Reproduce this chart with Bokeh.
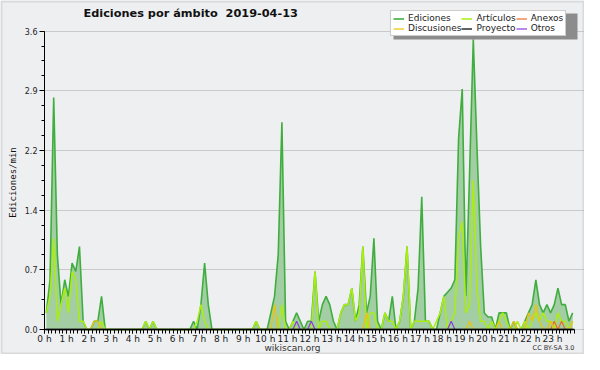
from math import pi
from bokeh.plotting import figure
from bokeh.models import (FixedTicker, Legend, LegendItem, Label, BoxAnnotation,
                          NumeralTickFormatter, Grid)
from bokeh.embed import file_html
from bokeh.resources import INLINE

# ---- data: 10-minute bins, edits per minute ----
bin_minutes = list(range(5, 1440, 10))          # bin centres (minutes after 0 h)
hour_ticks = list(range(24))
hour_labels = [f"{h} h" for h in hour_ticks]
y_ticks = [0.0, 0.72, 1.44, 2.16, 2.88, 3.6]

ediciones = [
    0.2, 0.6, 2.8, 0.9, 0.3, 0.6,    # 0 h
    0.4, 0.8, 0.7, 1.0, 0.1, 0.0,    # 1 h
    0.0, 0.1, 0.1, 0.4, 0.0, 0.0,    # 2 h
    0.0, 0.0, 0.0, 0.0, 0.0, 0.0,    # 3 h
    0.0, 0.0, 0.0, 0.1, 0.0, 0.1,    # 4 h
    0.0, 0.0, 0.0, 0.0, 0.0, 0.0,    # 5 h
    0.0, 0.0, 0.0, 0.0, 0.1, 0.0,    # 6 h
    0.3, 0.8, 0.3, 0.0, 0.0, 0.0,    # 7 h
    0.0, 0.0, 0.0, 0.0, 0.0, 0.0,    # 8 h
    0.0, 0.0, 0.0, 0.1, 0.0, 0.0,    # 9 h
    0.0, 0.2, 0.4, 0.9, 2.5, 0.1,    # 10 h
    0.0, 0.1, 0.2, 0.1, 0.0, 0.1,    # 11 h
    0.1, 0.7, 0.1, 0.3, 0.4, 0.3,    # 12 h
    0.1, 0.0, 0.2, 0.3, 0.3, 0.5,    # 13 h
    0.1, 0.3, 1.0, 0.2, 0.4, 1.1,    # 14 h
    0.1, 0.0, 0.2, 0.1, 0.4, 0.0,    # 15 h
    0.1, 0.4, 1.0, 0.0, 0.1, 0.5,    # 16 h
    1.6, 0.1, 0.1, 0.0, 0.0, 0.2,    # 17 h
    0.4, 0.45, 0.5, 0.6, 2.3, 2.9,   # 18 h
    0.4, 1.9, 3.5, 2.2, 1.0, 0.2,    # 19 h
    0.15, 0.15, 0.0, 0.2, 0.2, 0.2,  # 20 h
    0.0, 0.1, 0.0, 0.0, 0.1, 0.2,    # 21 h
    0.3, 0.6, 0.3, 0.2, 0.3, 0.2,    # 22 h
    0.3, 0.5, 0.3, 0.3, 0.1, 0.2,    # 23 h
]

articulos = [
    0.2, 0.4, 1.1, 0.1, 0.3, 0.5,
    0.2, 0.7, 0.6, 0.1, 0.1, 0.0,
    0.0, 0.0, 0.0, 0.1, 0.0, 0.0,
    0.0, 0.0, 0.0, 0.0, 0.0, 0.0,
    0.0, 0.0, 0.0, 0.1, 0.0, 0.1,
    0.0, 0.0, 0.0, 0.0, 0.0, 0.0,
    0.0, 0.0, 0.0, 0.0, 0.0, 0.1,
    0.3, 0.1, 0.0, 0.0, 0.0, 0.0,
    0.0, 0.0, 0.0, 0.0, 0.0, 0.0,
    0.0, 0.0, 0.0, 0.1, 0.0, 0.0,
    0.0, 0.0, 0.0, 0.0, 0.3, 0.0,
    0.0, 0.1, 0.0, 0.0, 0.0, 0.0,
    0.0, 0.7, 0.0, 0.1, 0.1, 0.0,
    0.0, 0.0, 0.2, 0.3, 0.3, 0.5,
    0.1, 0.2, 1.0, 0.0, 0.2, 0.2,
    0.0, 0.0, 0.2, 0.1, 0.1, 0.0,
    0.1, 0.4, 1.0, 0.0, 0.1, 0.1,
    0.1, 0.1, 0.1, 0.0, 0.1, 0.2,
    0.4, 0.0, 0.1, 0.2, 1.1, 1.3,
    0.2, 0.3, 1.8, 0.5, 0.1, 0.1,
    0.0, 0.1, 0.0, 0.1, 0.2, 0.1,
    0.0, 0.0, 0.1, 0.0, 0.1, 0.0,
    0.1, 0.2, 0.1, 0.2, 0.1, 0.1,
    0.0, 0.2, 0.1, 0.1, 0.0, 0.1,
]

discusiones = [0.0] * 144
for i, v in {13: 0.1, 14: 0.1, 62: 0.3, 87: 0.2, 115: 0.1, 123: 0.1, 127: 0.1,
             131: 0.2, 132: 0.1, 133: 0.3, 134: 0.1, 137: 0.1, 143: 0.1}.items():
    discusiones[i] = v

anexos = [0.0] * 144
for i, v in {138: 0.1, 140: 0.1}.items():
    anexos[i] = v

otros = [0.0] * 144
for i, v in {68: 0.1, 72: 0.1, 110: 0.1}.items():
    otros[i] = v

proyecto = [0.0] * 144

# ---- style ----
BG = "#eeeff1"
FONT = "DejaVu Sans"
hours = [m / 60 for m in bin_minutes]
X_END = 24.4528

# the frame fills the whole canvas; both axes are pinned at 0
p = figure(width=584, height=354,
           x_range=(-1.9925, X_END), y_range=(-0.3016, 3.9692),
           output_backend="svg", toolbar_location=None, title=None,
           background_fill_color=BG, border_fill_color=BG, outline_line_color=None,
           min_border_left=0, min_border_right=0, min_border_top=0,
           min_border_bottom=0)

area = p.varea(x=hours, y1=0, y2=ediciones, fill_color="#a3cda3", fill_alpha=1.0)
r_ed = p.line(hours, ediciones, line_color="#3fae3f", line_width=1.6)
r_ar = p.line(hours, articulos, line_color="#aaee10", line_width=1.5)
r_an = p.line(hours, anexos, line_color="#f26a22", line_width=1.2)
r_ot = p.line(hours, otros, line_color="#8a3ce0", line_width=1.2)
r_di = p.line(hours, discusiones, line_color="#eec400", line_width=1.2)
r_pr = p.line(hours, proyecto, line_color="#3a3a3a", line_width=1.6)

# x axis
xax = p.xaxis[0]
xax.fixed_location = 0
xax.bounds = (0, 24)
xax.ticker = FixedTicker(ticks=hour_ticks, minor_ticks=[m / 60 for m in range(0, 1441, 10)])
xax.major_label_overrides = {h: lab for h, lab in zip(hour_ticks, hour_labels)}
xax.major_tick_out = 4
xax.major_tick_in = 0
xax.minor_tick_out = 4
xax.minor_tick_in = 0
xax.major_label_standoff = 0
xax.major_label_text_font = FONT
xax.major_label_text_font_size = "9px"
xax.major_label_text_color = "#222222"
xax.axis_line_color = "black"
xax.axis_line_width = 1.3
xax.major_tick_line_color = "black"
xax.minor_tick_line_color = "black"

# y axis
yax = p.yaxis[0]
yax.fixed_location = 0
yax.bounds = (0, 3.6)
yax.ticker = FixedTicker(ticks=y_ticks, minor_ticks=[i * 0.18 for i in range(21)])
yax.formatter = NumeralTickFormatter(format="0.0")
yax.major_tick_out = 5
yax.major_tick_in = 0
yax.minor_tick_out = 3
yax.minor_tick_in = 0
yax.major_label_standoff = 2
yax.major_label_text_font = FONT
yax.major_label_text_font_size = "8px"
yax.major_label_text_color = "#222222"
yax.axis_line_color = "black"

# horizontal grid only, from the y axis to the right edge
p.xgrid.visible = False
ygrid = p.ygrid[0]
ygrid.grid_line_color = "#c9c9c9"
ygrid.grid_line_width = 1
if "cross_bounds" in Grid.properties():
    ygrid.cross_bounds = (0, X_END)
else:
    ygrid.visible = False
    p.segment(x0=[0] * len(y_ticks), x1=[X_END] * len(y_ticks), y0=y_ticks, y1=y_ticks,
              line_color="#c9c9c9", line_width=1, level="underlay")

# y axis title
p.add_layout(Label(x=12, y=182, x_units="canvas", y_units="canvas", angle=pi / 2,
                   text="Ediciones/min", text_font="DejaVu Sans Mono",
                   text_font_size="9px", text_color="#111111",
                   text_align="center", text_baseline="middle"))

# chart title
p.add_layout(Label(x=83, y=12.5, x_units="canvas", y_units="canvas",
                   text="Ediciones por ámbito\u00a0 2019-04-13", text_font=FONT,
                   text_font_size="11.3px", text_font_style="bold",
                   text_color="#111111", text_align="left", text_baseline="middle"))

# legend shadow + legend
p.add_layout(BoxAnnotation(left=393, right=577, top=13, bottom=39,
                           left_units="canvas", right_units="canvas",
                           top_units="canvas", bottom_units="canvas",
                           fill_color="#8c8c8c", fill_alpha=1.0, line_color=None))

legend = Legend(items=[
    LegendItem(label="Ediciones", renderers=[r_ed]),
    LegendItem(label="Artículos", renderers=[r_ar]),
    LegendItem(label="Anexos", renderers=[r_an]),
    LegendItem(label="Discusiones", renderers=[r_di]),
    LegendItem(label="Proyecto", renderers=[r_pr]),
    LegendItem(label="Otros", renderers=[r_ot]),
], orientation="horizontal", nrows=2, location=(390, 318))
legend.margin = 0
legend.label_text_font = FONT
legend.label_text_font_size = "9px"
legend.label_text_color = "#222222"
legend.label_height = 9
legend.label_standoff = 4
legend.glyph_width = 11
legend.glyph_height = 9
legend.spacing = 0
legend.padding = 2
legend.border_line_color = "#9a9a9a"
legend.background_fill_color = "white"
legend.background_fill_alpha = 1.0
p.add_layout(legend, "center")

# footer texts
p.add_layout(Label(x=292, y=347, x_units="canvas", y_units="canvas",
                   text="wikiscan.org", text_font=FONT, text_font_size="9px",
                   text_color="#333333", text_align="center", text_baseline="middle"))
p.add_layout(Label(x=574, y=347.5, x_units="canvas", y_units="canvas",
                   text="CC BY-SA 3.0", text_font=FONT, text_font_size="6.5px",
                   text_color="#333333", text_align="right", text_baseline="middle"))

# outer frame of the picture
p.add_layout(BoxAnnotation(left=1, right=583, top=1, bottom=353,
                           left_units="canvas", right_units="canvas",
                           top_units="canvas", bottom_units="canvas",
                           fill_alpha=0, line_color="#a9a9a9", line_width=2))

open("out.html", "w").write(file_html(p, INLINE))
